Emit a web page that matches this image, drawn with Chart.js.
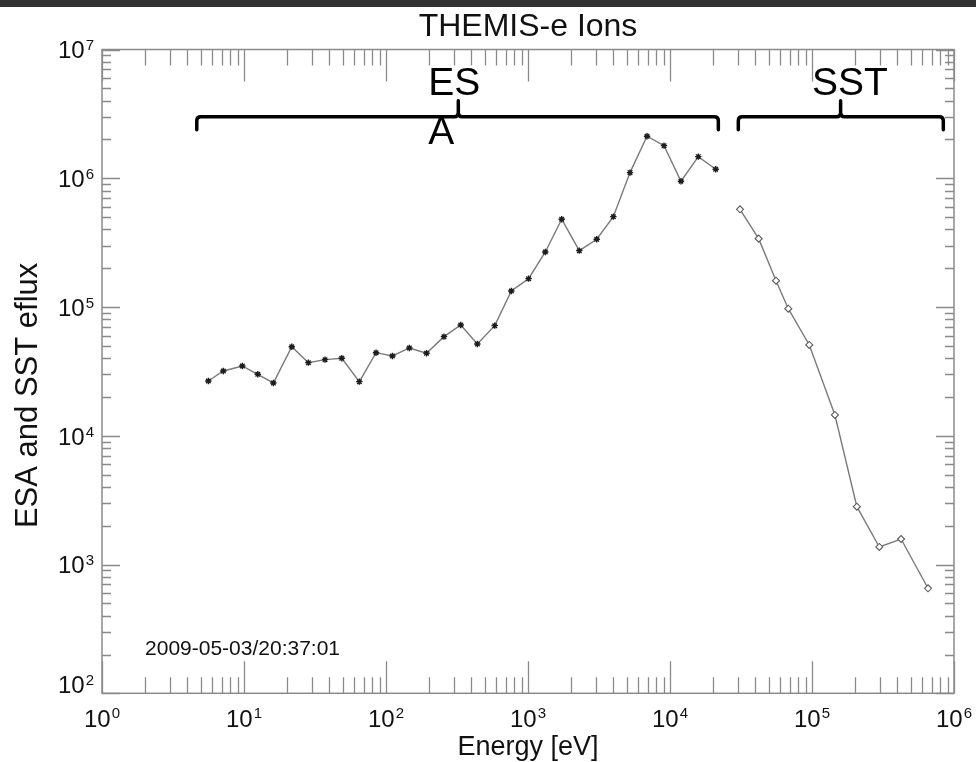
<!DOCTYPE html>
<html><head><meta charset="utf-8">
<script src="https://cdn.jsdelivr.net/npm/chart.js@4/dist/chart.umd.min.js"></script>
<style>html,body{margin:0;padding:0;background:#fff}#c{display:block}</style>
</head><body>
<canvas id="c" width="976" height="762"></canvas>
<script>
const chartTitle = 'THEMIS-e Ions';
const xAxisTitle = 'Energy [eV]';
const yAxisTitle = 'ESA and SST eflux';
const timestampText = '2009-05-03/20:37:01';
const timestampAt = [2.01, 198];           // [energy, flux] anchor of the time stamp

const esaEnergy = [5.61, 7.15, 9.73, 12.5, 16.1, 21.7, 28.4, 37.2, 48.8, 64.9, 85.1, 111, 146, 193, 256, 336, 440, 583, 763, 1010, 1324, 1727, 2298, 3048, 3990, 5227, 6890, 9075, 11950, 15820, 20990];
const esaFlux = [26650, 31870, 34840, 30040, 25720, 49200, 36970, 39010, 39990, 26320, 44200, 41670, 48080, 43730, 58850, 72550, 51640, 71640, 133300, 166100, 267700, 480400, 274000, 336000, 503100, 1106000, 2120000, 1791000, 948000, 1472000, 1175000];
const sstEnergy = [31100, 42100, 55800, 68100, 95700, 145000, 207000, 298000, 424000, 656000];
const sstFlux = [574300, 339600, 160200, 97100, 50720, 14510, 2814, 1369, 1579, 654];

const xTickExponents = [0, 1, 2, 3, 4, 5, 6];
const yTickExponents = [2, 3, 4, 5, 6, 7];

const bracketLabels = [['ES', 'A'], ['SST']];
const bracketFrom = [4.65, 30270];
const bracketTo = [21900, 841000];
const bracketMid = [323, 159000];
const bracketLevel = [3.0e6, 3.0e6];
const bracketTextAt = [198, 185000];      // energy: left edge of ESA text / centre of SST text
const bracketTextAlign = ['left', 'center'];

const axisColor = '#8a8a8a';

const decor = {
  id: 'decor',
  afterDraw(chart) {
    const ctx = chart.ctx, ca = chart.chartArea, xs = chart.scales.x, ys = chart.scales.y;
    ctx.save();
    // top dark strip
    ctx.fillStyle = '#333333';
    ctx.fillRect(0, 0, chart.width, 7);

    // frame
    ctx.strokeStyle = axisColor;
    ctx.lineWidth = 1.5;
    ctx.strokeRect(ca.left, ca.top, ca.right - ca.left, ca.bottom - ca.top);

    // x ticks (bottom & top, inward)
    ctx.lineWidth = 1.3;
    ctx.beginPath();
    for (let d = xTickExponents[0]; d <= xTickExponents[xTickExponents.length - 1]; d++) {
      for (let m = 1; m <= 9; m++) {
        if (d === xTickExponents[xTickExponents.length - 1] && m > 1) break;
        const px = Math.round(xs.getPixelForValue(m * Math.pow(10, d))) + 0.5;
        const len = m === 1 ? 32 : 16;
        ctx.moveTo(px, ca.bottom); ctx.lineTo(px, ca.bottom - len);
        ctx.moveTo(px, ca.top); ctx.lineTo(px, ca.top + len);
      }
    }
    // y ticks (left & right, inward)
    for (let d = yTickExponents[0]; d <= yTickExponents[yTickExponents.length - 1]; d++) {
      for (let m = 1; m <= 9; m++) {
        if (d === yTickExponents[yTickExponents.length - 1] && m > 1) break;
        const py = Math.round(ys.getPixelForValue(m * Math.pow(10, d))) + 0.5;
        const len = m === 1 ? 18 : 9;
        ctx.moveTo(ca.left, py); ctx.lineTo(ca.left + len, py);
        ctx.moveTo(ca.right, py); ctx.lineTo(ca.right - len, py);
      }
    }
    ctx.stroke();

    // tick labels
    ctx.fillStyle = '#111111';
    const big = '24px "Liberation Sans", Arial, sans-serif';
    const sup = '15px "Liberation Sans", Arial, sans-serif';
    ctx.textBaseline = 'alphabetic';
    xTickExponents.forEach(e => {
      const px = xs.getPixelForValue(Math.pow(10, e));
      ctx.font = big; const w1 = ctx.measureText('10').width;
      ctx.font = sup; const w2 = ctx.measureText(String(e)).width;
      const x0 = px - (w1 + w2 + 1) / 2;
      const base = ca.bottom + 33.4;
      ctx.font = big; ctx.textAlign = 'left'; ctx.fillText('10', x0, base);
      ctx.font = sup; ctx.fillText(String(e), x0 + w1 + 1, base - 9);
    });
    yTickExponents.forEach(e => {
      const py = ys.getPixelForValue(Math.pow(10, e));
      ctx.font = sup; const w2 = ctx.measureText(String(e)).width;
      const right = ca.left - 8;
      let base = py + 8.8;
      if (base > ca.bottom) base = ca.bottom;
      ctx.textAlign = 'right';
      ctx.font = sup; ctx.fillText(String(e), right, base - 8);
      ctx.font = big; ctx.fillText('10', right - w2 - 1, base);
    });

    // titles
    ctx.textAlign = 'center';
    ctx.font = '32px "Liberation Sans", Arial, sans-serif';
    ctx.fillText(chartTitle, (ca.left + ca.right) / 2, 36);
    ctx.font = '27px "Liberation Sans", Arial, sans-serif';
    ctx.fillText(xAxisTitle, (ca.left + ca.right) / 2, 755);
    ctx.save();
    ctx.translate(36.5, (ca.top + ca.bottom) / 2 + 24);
    ctx.rotate(-Math.PI / 2);
    ctx.font = '31px "Liberation Sans", Arial, sans-serif';
    ctx.fillText(yAxisTitle, 0, 0);
    ctx.restore();

    // time stamp
    ctx.textAlign = 'left';
    ctx.font = '21px "Liberation Sans", Arial, sans-serif';
    ctx.fillText(timestampText, xs.getPixelForValue(timestampAt[0]), ys.getPixelForValue(timestampAt[1]));

    // brackets
    ctx.strokeStyle = '#000000';
    ctx.lineWidth = 3.5;
    ctx.lineCap = 'round';
    ctx.lineJoin = 'round';
    bracketLabels.forEach((lab, i) => {
      const x1 = xs.getPixelForValue(bracketFrom[i]);
      const x2 = xs.getPixelForValue(bracketTo[i]);
      const xm = xs.getPixelForValue(bracketMid[i]);
      const y = ys.getPixelForValue(bracketLevel[i]);
      const r = 4;
      ctx.beginPath();
      ctx.moveTo(x1, y + 13);
      ctx.lineTo(x1, y + r);
      ctx.quadraticCurveTo(x1, y, x1 + r, y);
      ctx.lineTo(xm - r, y);
      ctx.quadraticCurveTo(xm, y, xm, y - r);
      ctx.lineTo(xm, y - 16);
      ctx.moveTo(xm, y - r);
      ctx.quadraticCurveTo(xm, y, xm + r, y);
      ctx.lineTo(x2 - r, y);
      ctx.quadraticCurveTo(x2, y, x2, y + r);
      ctx.lineTo(x2, y + 13);
      ctx.stroke();
      ctx.font = '39px "Liberation Sans", Arial, sans-serif';
      ctx.fillStyle = '#000000';
      ctx.textAlign = bracketTextAlign[i];
      const tx = xs.getPixelForValue(bracketTextAt[i]);
      lab.forEach((s, k) => ctx.fillText(s, tx, y - 22 + k * 49));
    });
    ctx.restore();
  }
};

new Chart(document.getElementById('c'), {
  type: 'line',
  data: {
    datasets: [
      {
        label: 'ESA',
        data: esaEnergy.map((e, i) => ({ x: e, y: esaFlux[i] })),
        borderColor: '#7a7a7a', borderWidth: 1.4, tension: 0,
        pointStyle: 'star', pointRadius: 3.2,
        pointBorderColor: '#1c1c1c', pointBackgroundColor: '#1c1c1c', pointBorderWidth: 1.4
      },
      {
        label: 'SST',
        data: sstEnergy.map((e, i) => ({ x: e, y: sstFlux[i] })),
        borderColor: '#7a7a7a', borderWidth: 1.4, tension: 0,
        pointStyle: 'rectRot', pointRadius: 3.5,
        pointBorderColor: '#5a5a5a', pointBackgroundColor: '#ffffff', pointBorderWidth: 1.1
      }
    ]
  },
  options: {
    responsive: false, animation: false, devicePixelRatio: 1,
    layout: { padding: { left: 102, right: 22, top: 49.5, bottom: 68.7 } },
    plugins: { legend: { display: false }, tooltip: { enabled: false }, title: { display: false } },
    scales: {
      x: { type: 'logarithmic', min: 1, max: 1e6, display: false },
      y: { type: 'logarithmic', min: 100, max: 1e7, display: false }
    }
  },
  plugins: [decor]
});
</script>
</body></html>
